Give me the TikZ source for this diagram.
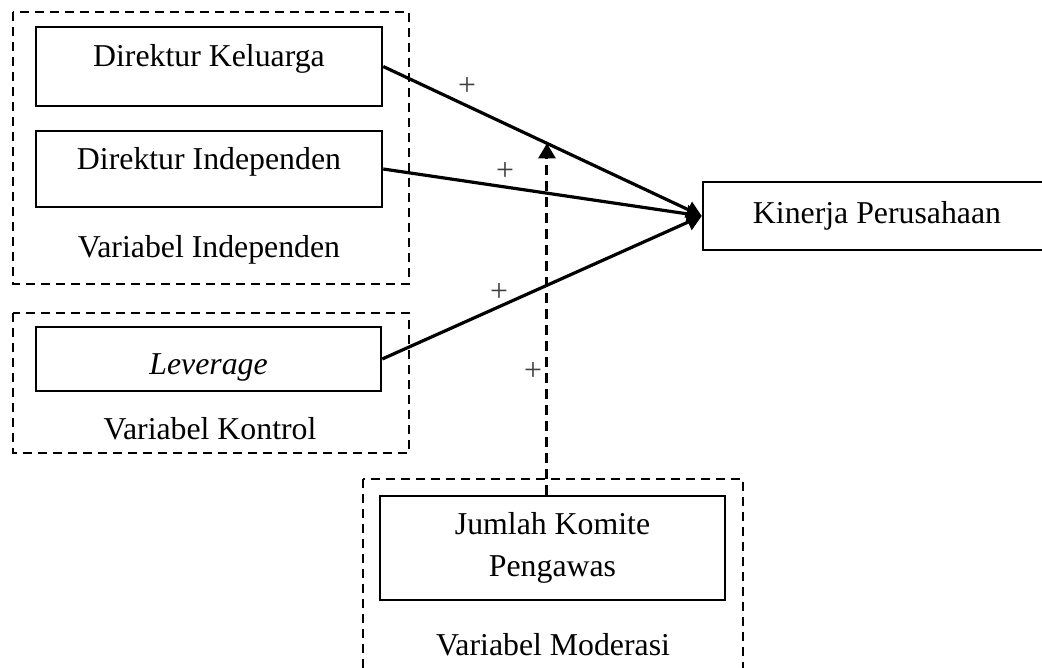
\documentclass[tikz,border=0pt]{standalone}
\usepackage{fontspec}
\setmainfont{Liberation Serif}
\usetikzlibrary{arrows.meta}

\tikzset{
  varbox/.style={draw, line width=2.5pt, rectangle, inner sep=0pt},
  grpbox/.style={draw, line width=2pt, dash pattern=on 9pt off 6pt},
  effect/.style={line width=3.2pt, -{Triangle[length=15pt, width=17pt]}},
  modarrow/.style={line width=3pt, dash pattern=on 10pt off 6pt, -{Triangle[length=15pt, width=17pt]}},
  sign/.style={text=black!75, inner sep=0pt}
}

\begin{document}
\begin{tikzpicture}[x=1pt, y=-1pt, every node/.style={font=\fontsize{31.8}{42}\selectfont}]
	\useasboundingbox (0,0) rectangle (1042,667);
	% kelompok variabel
	\draw[grpbox] (13,12) rectangle (409,284);
	\draw[grpbox] (13,313) rectangle (409,453);
	\draw[grpbox] (363,479) rectangle (743,700);
	% variabel
	\node[varbox, minimum width=346pt, minimum height=79pt, text height=15pt, text depth=15pt] (keluarga) at (209,66.5) {Direktur Keluarga};
	\node[varbox, minimum width=346pt, minimum height=76pt, text height=15pt, text depth=15pt] (independen) at (209,169) {Direktur Independen};
	\node[varbox, minimum width=345pt, minimum height=64pt, text height=30pt, text depth=0pt] (leverage) at (208.5,359) {\textit{Leverage}};
	\node[varbox, minimum width=348pt, minimum height=68pt] (kinerja) at (877,216) {Kinerja Perusahaan};
	\node[varbox, minimum width=345pt, minimum height=104pt, align=center] (jumlah) at (552.5,548) {Jumlah Komite\\Pengawas};
	% nama kelompok
	\node[anchor=base] (lblind) at (209,257) {Variabel Independen};
	\node[anchor=base] (lblkon) at (210,439) {Variabel Kontrol};
	\node[anchor=base] (lblmod) at (553,655) {Variabel Moderasi};
	% pengaruh
	\draw[effect] (keluarga.east) -- (kinerja.west);
	\draw[effect] (independen.east) -- (kinerja.west);
	\draw[effect] (leverage.east) -- (kinerja.west);
	\path (keluarga.east) -- (kinerja.west) coordinate[pos=0.514] (mod);
	\draw[modarrow] (jumlah.north -| mod) -- (mod);
	\node[sign] (plusA) at (467,87) {+};
	\node[sign] (plusB) at (505,172) {+};
	\node[sign] (plusC) at (499,293) {+};
	\node[sign] (plusD) at (533,372) {+};
\end{tikzpicture}
\end{document}
